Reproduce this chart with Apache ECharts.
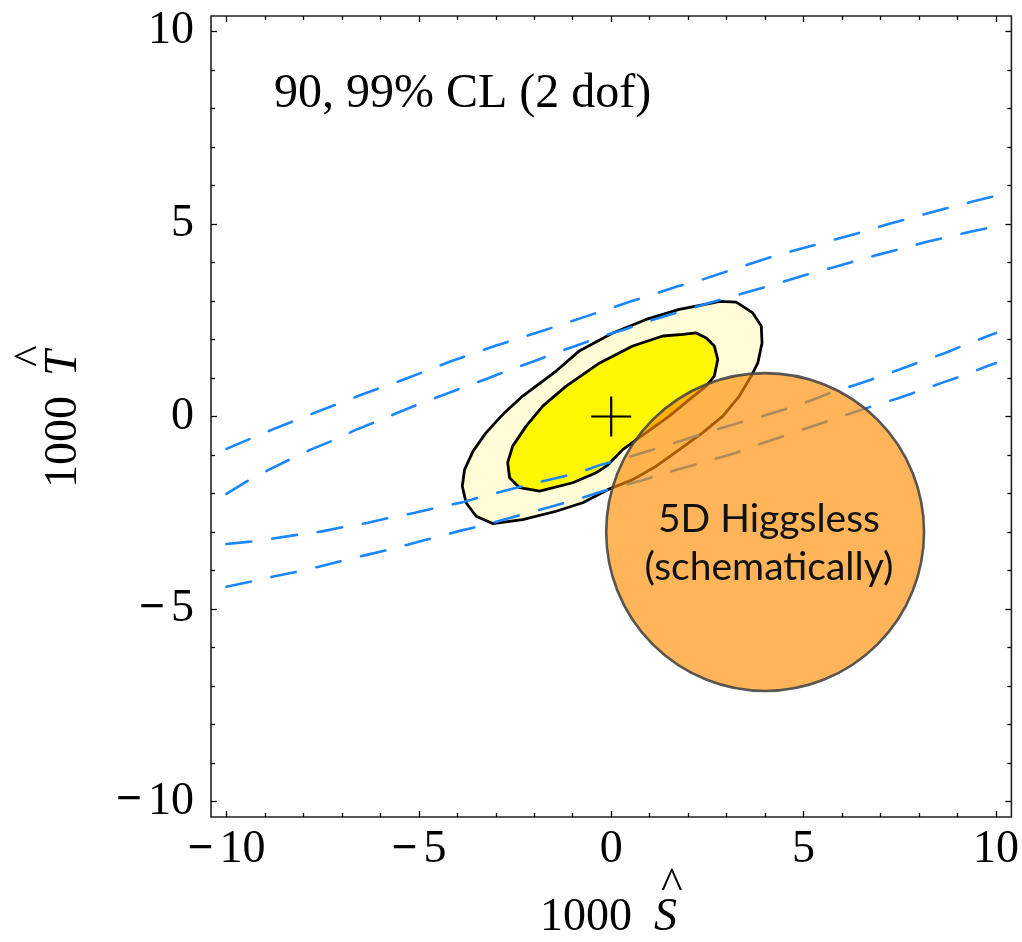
<!DOCTYPE html>
<html><head><meta charset="utf-8">
<script src="https://cdn.jsdelivr.net/npm/echarts@6/dist/echarts.min.js"></script>
<style>html,body{margin:0;padding:0;background:#fff}#c{width:1022px;height:942px}</style>
</head><body><div id="c"></div>
<script>
// ---------- tick values ----------
const xMajorTicks = [-10, -5, 0, 5, 10];
const xMinorTicks = [-9, -8, -7, -6, -4, -3, -2, -1, 1, 2, 3, 4, 6, 7, 8, 9];
const yMajorTicks = [-10, -5, 0, 5, 10];
const yMinorTicks = [-9, -8, -7, -6, -4, -3, -2, -1, 1, 2, 3, 4, 6, 7, 8, 9];

// ---------- texts ----------
const xTitle = ['1000', 'S'];
const yTitle = ['1000', 'T'];
const clText = '90, 99% CL (2 dof)';
const modelText = '5D Higgsless\n(schematically)';

// ---------- 99% CL contour (S, T) ----------
const contour99 = [
  [2.81, 2.99], [3.25, 2.97], [3.68, 2.69], [3.90, 2.35], [3.92, 1.91], [3.81, 1.39],
  [3.64, 1.05], [3.33, 0.53], [2.90, 0.01], [2.38, -0.42], [1.77, -0.86], [1.17, -1.29],
  [0.56, -1.64], [-0.09, -1.90], [-0.74, -2.24], [-1.43, -2.46], [-2.30, -2.68], [-3.08, -2.78],
  [-3.51, -2.59], [-3.77, -2.24], [-3.87, -1.81], [-3.81, -1.38], [-3.59, -0.90], [-3.25, -0.42],
  [-2.82, 0.05], [-2.30, 0.53], [-1.43, 1.18], [-0.82, 1.71], [0.04, 2.17], [0.91, 2.52],
  [1.77, 2.78], [2.64, 2.95]
];
// ---------- 90% CL contour (S, T) ----------
const contour90 = [
  [1.86, 2.13], [2.21, 2.17], [2.47, 2.04], [2.68, 1.83], [2.77, 1.48], [2.68, 1.05],
  [2.47, 0.79], [2.03, 0.44], [1.51, 0.01], [0.91, -0.42], [0.30, -0.86], [-0.10, -1.27],
  [-0.39, -1.46], [-1.00, -1.72], [-1.86, -1.94], [-2.38, -1.85], [-2.64, -1.59], [-2.69, -1.20],
  [-2.56, -0.77], [-2.21, -0.25], [-1.78, 0.27], [-1.17, 0.79], [-0.30, 1.39], [0.56, 1.83],
  [1.34, 2.09]
];
// ---------- central value ----------
const centralValue = [[0, 0]];
const crossHalfWidth = 0.52;

// ---------- dashed blue bands (S, T) ----------
const bandUpperA = [
  [-10, -0.84], [-8.86, -0.36], [-7.70, 0.10], [-6.53, 0.55], [-5.34, 0.98], [-4.20, 1.42],
  [-3.03, 1.83], [-1.86, 2.20], [-0.65, 2.60], [0.52, 2.99], [1.73, 3.38], [2.38, 3.56],
  [4.37, 4.21], [5.32, 4.46], [6.52, 4.79], [7.14, 4.98], [8.35, 5.31], [9.55, 5.62], [10, 5.73]
];
const bandUpperB = [
  [-10, -2.01], [-9.46, -1.68], [-8.93, -1.40], [-8.36, -1.12], [-7.81, -0.86], [-7.20, -0.61],
  [-6.67, -0.36], [-6.05, -0.11], [-5.52, 0.11], [-4.91, 0.36], [-4.33, 0.57], [-3.72, 0.80],
  [-3.18, 1.00], [-2.56, 1.24], [-1.99, 1.44], [-1.39, 1.67], [-0.82, 1.87], [-0.22, 2.09],
  [0.35, 2.26], [0.99, 2.48], [2.21, 2.85], [3.33, 3.17], [4.37, 3.47], [5.13, 3.70],
  [5.76, 3.87], [6.35, 4.04], [6.97, 4.21], [7.56, 4.36], [8.18, 4.53], [8.75, 4.66],
  [9.39, 4.81], [10, 4.94]
];
const bandLowerA = [
  [-10, -3.31], [-9.37, -3.25], [-8.79, -3.17], [-8.14, -3.07], [-7.55, -2.99], [-6.90, -2.86],
  [-6.32, -2.76], [-5.67, -2.61], [-5.10, -2.50], [-4.46, -2.35], [-3.87, -2.23], [-3.25, -2.05],
  [-2.69, -1.91], [-2.04, -1.74], [-1.47, -1.61], [-0.82, -1.45], [-0.26, -1.25], [0.30, -1.10],
  [0.95, -0.90], [1.51, -0.73], [2.12, -0.53], [2.73, -0.34], [3.33, -0.16], [3.94, 0.01],
  [4.50, 0.18], [5.15, 0.40], [5.71, 0.62], [6.32, 0.81], [6.88, 1.00], [7.49, 1.22], [8.08, 1.44],
  [8.68, 1.65], [9.22, 1.87], [9.84, 2.11], [10, 2.17]
];
const bandLowerB = [
  [-10, -4.42], [-9.38, -4.29], [-8.81, -4.16], [-8.16, -4.03], [-7.60, -3.90], [-6.95, -3.74],
  [-6.38, -3.60], [-5.73, -3.45], [-5.15, -3.29], [-4.53, -3.13], [-3.94, -2.97], [-3.34, -2.83],
  [-2.73, -2.66], [-2.12, -2.49], [-1.52, -2.33], [-0.91, -2.16], [-0.35, -1.98], [0.26, -1.81],
  [0.86, -1.64], [1.47, -1.45], [2.03, -1.29], [2.64, -1.12], [3.25, -0.94], [3.85, -0.72],
  [5.63, -0.12], [6.79, 0.27], [7.44, 0.47], [7.99, 0.66], [8.61, 0.88], [9.16, 1.07],
  [9.78, 1.31], [10, 1.39]
];

// ---------- schematic 5D Higgsless region ----------
const higgslessCenter = [[4.0, -3.0]];
const higgslessRadius = 4.13;
const higgslessLabelAt = [4.1, -3.3];

// ---------- chart ----------
const SERIF = '"Liberation Serif", "Times New Roman", serif';
const chart = echarts.init(document.getElementById('c'), null, { renderer: 'canvas' });

const labelRich = {
  m: { fontFamily: SERIF, fontSize: 46, fontWeight: 'bold', color: '#000', padding: [0, 6, 0, 0] },
  n: { fontFamily: SERIF, fontSize: 46, color: '#000' }
};
function fmt(v) {
  v = Math.round(v);
  return v < 0 ? '{m|\u2212}{n|' + Math.abs(v) + '}' : '{n|' + v + '}';
}
function mkAxis(position, ticks, len, withLabels, margin) {
  return {
    type: 'value', position: position, min: -10.4, max: 10.4,
    axisLine: { show: false, onZero: false },
    splitLine: { show: false },
    axisTick: { show: true, inside: true, length: len, customValues: ticks,
                lineStyle: { color: '#000', width: 1.3 } },
    axisLabel: withLabels
      ? { show: true, customValues: ticks, formatter: fmt, rich: labelRich, margin: margin }
      : { show: false }
  };
}

function polygonRenderer(pts, fill) {
  return function (params, api) {
    if (params.dataIndex !== 0) return null;
    return {
      type: 'polygon',
      shape: { points: pts.map(p => api.coord(p)) },
      style: { fill: fill, stroke: '#000', lineWidth: 2.8, lineJoin: 'round' }
    };
  };
}

function dashedLine(data) {
  return {
    type: 'line', data: data, showSymbol: false, symbol: 'none', z: 4, silent: true,
    lineStyle: { color: '#1A86FF', width: 2.6, type: [25, 21], cap: 'round' },
    animation: false
  };
}

const option = {
  animation: false,
  backgroundColor: '#fff',
  grid: { left: 211, right: 10, top: 16, bottom: 125, show: true, borderColor: '#222', borderWidth: 1.6, backgroundColor: 'transparent' },
  xAxis: [
    mkAxis('bottom', xMajorTicks, 6, true, 10),
    mkAxis('bottom', xMinorTicks, 4, false),
    mkAxis('top', xMajorTicks, 6, false),
    mkAxis('top', xMinorTicks, 4, false)
  ],
  yAxis: [
    mkAxis('left', yMajorTicks, 6, true, 17),
    mkAxis('left', yMinorTicks, 4, false),
    mkAxis('right', yMajorTicks, 6, false),
    mkAxis('right', yMinorTicks, 4, false)
  ],
  series: [
    { type: 'custom', data: contour99, z: 1, silent: true, renderItem: polygonRenderer(contour99, '#FFFDD8') },
    { type: 'custom', data: contour90, z: 2, silent: true, renderItem: polygonRenderer(contour90, '#FFF700') },
    {
      type: 'custom', data: centralValue, z: 3, silent: true,
      renderItem: function (params, api) {
        const c = api.coord([api.value(0), api.value(1)]);
        const s = api.size([crossHalfWidth, crossHalfWidth]);
        return {
          type: 'group', children: [
            { type: 'line', shape: { x1: c[0] - s[0], y1: c[1], x2: c[0] + s[0], y2: c[1] }, style: { stroke: '#000', lineWidth: 2.2 } },
            { type: 'line', shape: { x1: c[0], y1: c[1] - s[1], x2: c[0], y2: c[1] + s[1] }, style: { stroke: '#000', lineWidth: 2.2 } }
          ]
        };
      }
    },
    dashedLine(bandUpperA),
    dashedLine(bandUpperB),
    dashedLine(bandLowerA),
    dashedLine(bandLowerB),
    {
      type: 'custom', data: higgslessCenter, z: 5, silent: true,
      renderItem: function (params, api) {
        const c = api.coord([api.value(0), api.value(1)]);
        const s = api.size([higgslessRadius, higgslessRadius]);
        const t = api.coord(higgslessLabelAt);
        return {
          type: 'group', children: [
            { type: 'circle', shape: { cx: c[0], cy: c[1], r: s[0] },
              style: { fill: 'rgba(255,140,0,0.65)', stroke: 'rgba(70,70,70,0.9)', lineWidth: 2.6 } },
            { type: 'text', x: t[0], y: t[1],
              style: { text: modelText, fill: '#111', font: '39px Lato, "Open Sans", sans-serif',
                       align: 'center', verticalAlign: 'middle', lineHeight: 48 } }
          ]
        };
      }
    }
  ],
  graphic: [
    { type: 'text', x: 274, y: 94, z: 10,
      style: { text: clText, font: '48px ' + SERIF, fill: '#000', align: 'left', verticalAlign: 'middle' } },
    // x axis title
    { type: 'text', x: 540, y: 918, z: 10,
      style: { text: xTitle[0], font: '46px ' + SERIF, fill: '#000', align: 'left', verticalAlign: 'middle' } },
    { type: 'text', x: 654, y: 918, z: 10,
      style: { text: xTitle[1], font: 'italic 46px ' + SERIF, fill: '#000', align: 'left', verticalAlign: 'middle' } },
    { type: 'text', x: 661, y: 887, z: 10,
      style: { text: '^', font: '46px ' + SERIF, fill: '#000', align: 'left', verticalAlign: 'middle' } },
    // y axis title (rotated)
    { type: 'text', x: 64, y: 488, rotation: Math.PI / 2, z: 10,
      style: { text: yTitle[0], font: '46px ' + SERIF, fill: '#000', align: 'left', verticalAlign: 'middle' } },
    { type: 'text', x: 64, y: 376, rotation: Math.PI / 2, z: 10,
      style: { text: yTitle[1], font: 'italic 46px ' + SERIF, fill: '#000', align: 'left', verticalAlign: 'middle' } },
    { type: 'text', x: 33, y: 367, rotation: Math.PI / 2, z: 10,
      style: { text: '^', font: '46px ' + SERIF, fill: '#000', align: 'left', verticalAlign: 'middle' } }
  ]
};
chart.setOption(option);
</script>
</body></html>
